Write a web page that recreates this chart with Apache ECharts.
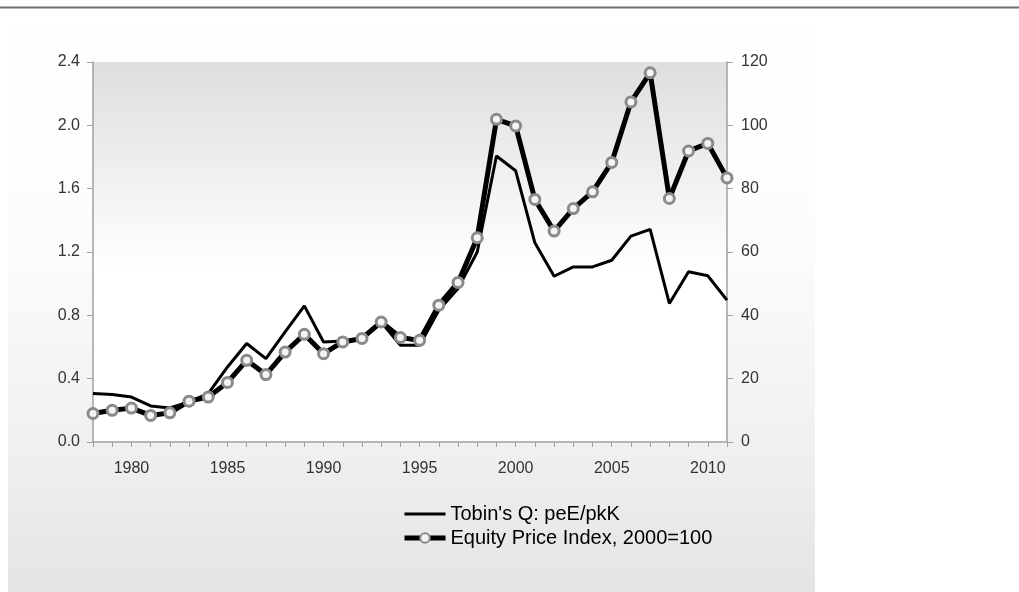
<!DOCTYPE html>
<html>
<head>
<meta charset="utf-8">
<script src="https://cdn.jsdelivr.net/npm/echarts@6/dist/echarts.min.js"></script>
<style>
html,body{margin:0;padding:0;background:#fff;}
#chart{width:1019px;height:592px;}
</style>
</head>
<body>
<div id="chart"></div>
<script>
const years = [1978,1979,1980,1981,1982,1983,1984,1985,1986,1987,1988,1989,1990,1991,1992,1993,1994,1995,1996,1997,1998,1999,2000,2001,2002,2003,2004,2005,2006,2007,2008,2009,2010,2011];
const tobinsQ = [0.306,0.300,0.284,0.228,0.215,0.253,0.306,0.474,0.622,0.527,0.695,0.860,0.632,0.638,0.650,0.758,0.611,0.611,0.832,0.970,1.200,1.806,1.713,1.258,1.047,1.106,1.106,1.148,1.300,1.343,0.875,1.075,1.050,0.896];
const equityIndex = [9.0,10.0,10.7,8.4,9.2,12.9,14.2,18.8,25.8,21.3,28.4,34.0,27.9,31.6,32.7,37.9,33.0,32.1,43.2,50.4,64.5,101.9,99.8,76.6,66.6,73.7,79.0,88.3,107.4,116.6,76.9,91.9,94.3,83.4];
const seriesNames = ["Tobin's Q: peE/pkK", "Equity Price Index, 2000=100"];

const chart = echarts.init(document.getElementById('chart'), null, {renderer:'canvas'});
const labelFont = {fontFamily:'"Liberation Sans", Arial, sans-serif', fontSize:16, color:'#333333'};
const option = {
  backgroundColor:'#ffffff',
  animation:false,
  graphic:[
    {type:'rect', z:-10, shape:{x:8, y:10, width:807, height:582},
     style:{fill:new echarts.graphic.LinearGradient(0,0,0,1,[
       {offset:0,color:'#ffffff'},{offset:0.4,color:'#fcfcfc'},{offset:0.75,color:'#f0f0f0'},{offset:1,color:'#e4e4e4'}])}},
    {type:'rect', z:-9, shape:{x:0, y:6.5, width:1019, height:2}, style:{fill:'#6e6e6e'}}
  ],
  grid:{left:93, right:292, top:62, bottom:150, show:true, borderWidth:0,
    backgroundColor:new echarts.graphic.LinearGradient(0,0,0,1,[
      {offset:0,color:'#dedede'},{offset:0.55,color:'#ffffff'},{offset:1,color:'#ffffff'}])},
  legend:{
    orient:'vertical', left:397, top:499, itemWidth:41, itemHeight:12, itemGap:4,
    symbolKeepAspect:true,
    textStyle:{fontFamily:'"Liberation Sans", Arial, sans-serif', fontSize:20, color:'#000'},
    data:[
      {name:seriesNames[0], icon:'path://M0,0H40V3H0Z'},
      {name:seriesNames[1], lineStyle:{width:5, color:'#000'}}
    ]
  },
  xAxis:{
    type:'value', min:1978, max:2011, interval:1,
    axisLine:{show:true, onZero:false, lineStyle:{color:'#a0a0a0', width:1.5}},
    axisTick:{show:true, length:5, lineStyle:{color:'#a0a0a0'}},
    axisLabel:Object.assign({margin:19, formatter:function(v){return v%5===0?String(v):'';}}, labelFont),
    splitLine:{show:false}
  },
  yAxis:[
    {type:'value', min:0, max:2.4, interval:0.4, position:'left',
     axisLine:{show:true, lineStyle:{color:'#a0a0a0', width:1.5}},
     axisTick:{show:true, length:6, lineStyle:{color:'#a0a0a0'}},
     axisLabel:Object.assign({margin:13, formatter:function(v){return v.toFixed(1);}}, labelFont),
     splitLine:{show:false}},
    {type:'value', min:0, max:120, interval:20, position:'right',
     axisLine:{show:true, lineStyle:{color:'#a0a0a0', width:1.5}},
     axisTick:{show:true, length:6, lineStyle:{color:'#a0a0a0'}},
     axisLabel:Object.assign({margin:14}, labelFont),
     splitLine:{show:false}}
  ],
  series:[
    {name:seriesNames[0], type:'line', yAxisIndex:0, symbol:'none',
     lineStyle:{color:'#000', width:3}, itemStyle:{color:'#000'},
     data:years.map((y,i)=>[y,tobinsQ[i]]), z:2},
    {name:seriesNames[1], type:'line', yAxisIndex:1, symbol:'circle', symbolSize:10,
     lineStyle:{color:'#000', width:5},
     itemStyle:{color:'#f4f4f4', borderColor:'#8a8a8a', borderWidth:3},
     data:years.map((y,i)=>[y,equityIndex[i]]), z:3}
  ]
};
chart.setOption(option);
</script>
</body>
</html>
